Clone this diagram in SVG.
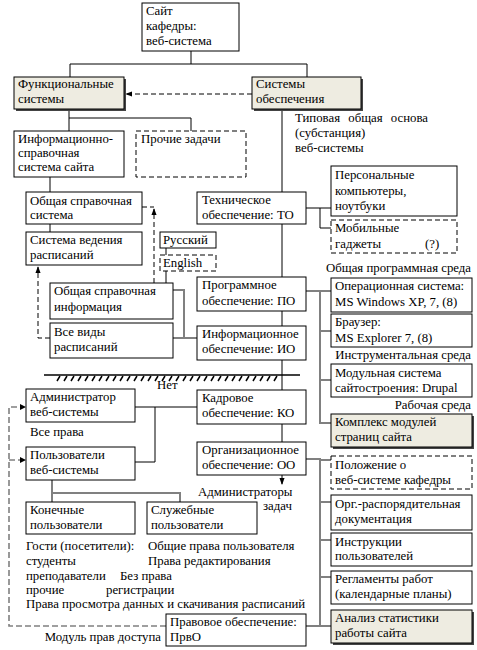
<svg xmlns="http://www.w3.org/2000/svg" width="477" height="650" viewBox="0 0 477 650">
<defs>
<style>
text{font-family:"Liberation Serif","DejaVu Serif",serif;font-size:12.8px;fill:#000}
.b{fill:#fff;stroke:#000;stroke-width:1}
.bd{fill:#fff;stroke:#000;stroke-width:1;stroke-dasharray:5,3}
.s{fill:#EEECE1;stroke:#000;stroke-width:1}
.sh{fill:#444;stroke:none}
.c{fill:none;stroke:#000;stroke-width:1}
.g{fill:none;stroke:#808080;stroke-width:2}
.d{fill:none;stroke:#000;stroke-width:1;stroke-dasharray:5,3}
.dg{fill:none;stroke:#808080;stroke-width:1.6;stroke-dasharray:6,3}
.r{text-anchor:end}
</style>
<marker id="a" viewBox="0 0 8 8" refX="7" refY="4" markerWidth="7" markerHeight="7" markerUnits="userSpaceOnUse" orient="auto">
<path d="M0,1 L8,4 L0,7 Z" fill="#000"/>
</marker>
</defs>

<g id="connectors">
<path class="c" d="M191,51 V64 M70,64 H307 M70,64 V77 M307,64 V77"/>
<path class="d" d="M252,94 H126" marker-end="url(#a)"/>
<path class="c" d="M69,109 V118 H191 V131 M69,118 V131"/>
<path class="c" d="M50,177 V192 M50,224 V232"/>
<path class="c" d="M166,248 V255 M166,271 V283"/>
<path class="d" d="M142,207 H154"/>
<path class="d" d="M154,283 V209" marker-end="url(#a)"/>
<path class="d" d="M50,338 H38 V267" marker-end="url(#a)"/>
<path class="g" d="M173,290 H184 V338 M173,338 H197"/>
<path class="c" d="M282,109 V442"/>
<path class="c" d="M306,208 H331 M320,208 V228 H331"/>
<path class="g" d="M306,291 H320 V423 H331 M320,291 H331 M320,331 H331 M320,380 H331"/>
<path class="c" d="M197,407 H135 M155,407 V462 H135"/>
<path class="c" d="M282,475 V484" marker-end="url(#a)"/>
<path class="g" d="M306,459 H320 V626 M320,460 H331 M320,502 H331 M320,540 H331 M320,577 H331 M306,626 H331"/>
<path class="g" d="M52,480 V493 H180 V502 M52,493 V502"/>
<path class="dg" d="M166,626 H9 V407 H20 M9,460 H20"/>
<path d="M20,404 L26,407 L20,410 Z M20,457 L26,460 L20,463 Z" fill="#000"/>
</g>

<g id="hatch">
<path d="M44,375 H300" stroke="#000" stroke-width="1.5" fill="none"/>
<path d="M57,381 l3,-5 M64,381 l3,-5 M71,381 l3,-5 M78,381 l3,-5 M85,381 l3,-5 M92,381 l3,-5 M99,381 l3,-5 M106,381 l3,-5 M113,381 l3,-5 M120,381 l3,-5 M127,381 l3,-5 M134,381 l3,-5 M141,381 l3,-5 M148,381 l3,-5 M155,381 l3,-5 M162,381 l3,-5 M169,381 l3,-5 M176,381 l3,-5 M183,381 l3,-5 M190,381 l3,-5 M197,381 l3,-5 M204,381 l3,-5 M211,381 l3,-5 M218,381 l3,-5 M225,381 l3,-5 M232,381 l3,-5 M239,381 l3,-5 M246,381 l3,-5 M253,381 l3,-5 M260,381 l3,-5 M267,381 l3,-5 M274,381 l3,-5" stroke="#000" stroke-width="1.5" fill="none"/>
<text x="157" y="389">Нет</text>
</g>

<g id="site"><rect class="b" x="142" y="3" width="97" height="48"/>
<text x="146" y="15">Сайт</text><text x="146" y="30">кафедры:</text><text x="146" y="45">веб-система</text></g>

<g id="func"><rect class="sh" x="16" y="79" width="110" height="32"/><rect class="s" x="14" y="77" width="110" height="32"/>
<text x="18" y="88">Функциональные</text><text x="18" y="103">системы</text></g>

<g id="sys"><rect class="sh" x="254" y="79" width="109" height="32"/><rect class="s" x="252" y="77" width="109" height="32"/>
<text x="256" y="88">Системы</text><text x="256" y="103">обеспечения</text></g>

<g id="base-note"><text x="295" y="122" word-spacing="5">Типовая общая основа</text><text x="295" y="137">(субстанция)</text><text x="295" y="152">веб-системы</text></g>

<g id="info"><rect class="b" x="14" y="131" width="110" height="46"/>
<text x="18" y="143">Информационно-</text><text x="18" y="157">справочная</text><text x="18" y="171">система сайта</text></g>

<g id="other"><rect class="bd" x="136" y="131" width="110" height="46"/>
<text x="141" y="143">Прочие задачи</text></g>

<g id="gss"><rect class="b" x="26" y="192" width="116" height="32"/>
<text x="30" y="205">Общая справочная</text><text x="30" y="219">система</text></g>

<g id="svr"><rect class="b" x="26" y="232" width="116" height="33"/>
<text x="30" y="244">Система ведения</text><text x="30" y="259">расписаний</text></g>

<g id="rus"><rect class="b" x="160" y="232" width="56" height="16"/><text x="163" y="244">Русский</text></g>
<g id="eng"><rect class="bd" x="160" y="255" width="56" height="16"/><text x="163" y="267">English</text></g>

<g id="osi"><rect class="b" x="50" y="283" width="123" height="36"/>
<text x="54" y="295">Общая справочная</text><text x="54" y="311">информация</text></g>

<g id="vvr"><rect class="b" x="50" y="323" width="123" height="35"/>
<text x="54" y="336">Все виды</text><text x="54" y="351">расписаний</text></g>

<g id="to"><rect class="b" x="197" y="192" width="109" height="32"/>
<text x="202" y="204">Техническое</text><text x="202" y="219">обеспечение: ТО</text></g>

<g id="pc"><rect class="b" x="331" y="166" width="126" height="50"/>
<text x="335" y="179">Персональные</text><text x="335" y="195">компьютеры,</text><text x="335" y="210">ноутбуки</text></g>

<g id="mob"><rect class="bd" x="331" y="220" width="126" height="33"/>
<text x="335" y="232">Мобильные</text><text x="335" y="248">гаджеты</text><text x="425" y="248">(?)</text></g>

<text class="r" x="471" y="272">Общая программная среда</text>

<g id="po"><rect class="b" x="197" y="277" width="109" height="34"/>
<text x="202" y="289">Программное</text><text x="202" y="305">обеспечение: ПО</text></g>

<g id="os"><rect class="b" x="331" y="278" width="141" height="34"/>
<text x="335" y="290">Операционная система:</text><text x="335" y="306">MS Windows XP, 7, (8)</text></g>

<g id="br"><rect class="b" x="331" y="314" width="141" height="33"/>
<text x="335" y="326">Браузер:</text><text x="335" y="342">MS Explorer 7, (8)</text></g>

<text class="r" x="471" y="359">Инструментальная среда</text>

<g id="drupal"><rect class="b" x="331" y="364" width="141" height="33"/>
<text x="335" y="377">Модульная система</text><text x="335" y="392">сайтостроения: Drupal</text></g>

<text class="r" x="471" y="409">Рабочая среда</text>

<g id="kompleks"><rect class="sh" x="333" y="416" width="141" height="33"/><rect class="s" x="331" y="414" width="141" height="33"/>
<text x="335" y="426">Комплекс модулей</text><text x="335" y="441">страниц сайта</text></g>

<g id="io"><rect class="b" x="197" y="326" width="109" height="34"/>
<text x="202" y="338">Информационное</text><text x="202" y="353">обеспечение: ИО</text></g>

<g id="admin"><rect class="b" x="26" y="389" width="109" height="33"/>
<text x="30" y="401">Администратор</text><text x="30" y="416">веб-системы</text></g>
<text x="30" y="436">Все права</text>

<g id="users"><rect class="b" x="26" y="447" width="109" height="33"/>
<text x="30" y="459">Пользователи</text><text x="30" y="474">веб-системы</text></g>

<g id="ko"><rect class="b" x="197" y="390" width="109" height="34"/>
<text x="202" y="402">Кадровое</text><text x="202" y="417">обеспечение: КО</text></g>

<g id="oo"><rect class="b" x="197" y="442" width="109" height="33"/>
<text x="202" y="454">Организационное</text><text x="202" y="469">обеспечение: ОО</text></g>

<text x="198" y="496">Администраторы</text>
<text x="263" y="510">задач</text>

<g id="polozh"><rect class="bd" x="331" y="456" width="141" height="33"/>
<text x="335" y="469">Положение о</text><text x="335" y="484">веб-системе кафедры</text></g>

<g id="org"><rect class="b" x="331" y="495" width="141" height="35"/>
<text x="335" y="508">Орг.-распорядительная</text><text x="335" y="523">документация</text></g>

<g id="instr"><rect class="b" x="331" y="533" width="141" height="33"/>
<text x="335" y="546">Инструкции</text><text x="335" y="560">пользователей</text></g>

<g id="regl"><rect class="b" x="331" y="571" width="141" height="33"/>
<text x="335" y="583">Регламенты работ</text><text x="335" y="598">(календарные планы)</text></g>

<g id="analiz"><rect class="sh" x="333" y="612" width="141" height="33"/><rect class="s" x="331" y="610" width="141" height="33"/>
<text x="335" y="622">Анализ статистики</text><text x="335" y="637">работы сайта</text></g>

<g id="konech"><rect class="b" x="26" y="502" width="109" height="32"/>
<text x="30" y="514">Конечные</text><text x="30" y="529">пользователи</text></g>

<g id="sluzh"><rect class="b" x="147" y="502" width="110" height="32"/>
<text x="151" y="514">Служебные</text><text x="151" y="529">пользователи</text></g>

<g id="rights">
<text x="26" y="550">Гости (посетители):</text><text x="148" y="550">Общие права пользователя</text>
<text x="26" y="565">студенты</text><text x="148" y="565">Права редактирования</text>
<text x="26" y="580">преподаватели</text><text x="120" y="580">Без права</text>
<text x="26" y="594">прочие</text><text x="106" y="594">регистрации</text>
<text x="26" y="608">Права просмотра данных и скачивания расписаний</text>
</g>

<g id="pravo"><rect class="b" x="166" y="614" width="140" height="32"/>
<text x="170" y="626">Правовое обеспечение:</text><text x="170" y="641">ПрвО</text></g>

<text class="r" x="161" y="641">Модуль прав доступа</text>
</svg>
